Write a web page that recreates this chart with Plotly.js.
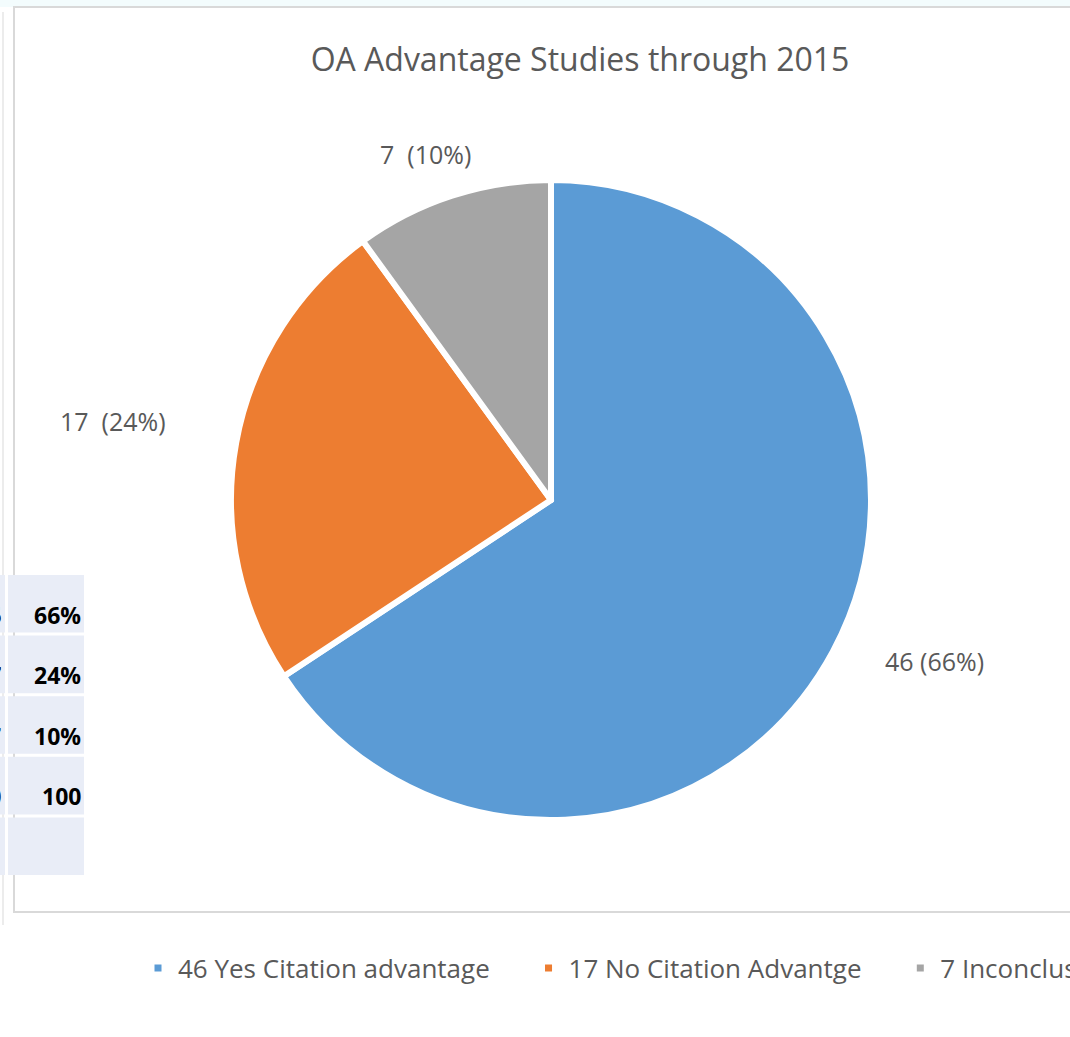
<!DOCTYPE html>
<html>
<head>
<meta charset="utf-8">
<script src="https://cdn.plot.ly/plotly-3.0.1.min.js"></script>
<style>
  html, body { margin: 0; padding: 0; background: #ffffff; }
  #chart { width: 1070px; height: 1037px; }
</style>
</head>
<body>
<div id="chart"></div>
<script>
// ---- data ----
const categories = ['46 Yes Citation advantage', '17 No Citation Advantge', '7 Inconclusive'];
const counts = [46, 17, 7];
const sliceLabels = ['46 (66%)', '17\u00A0\u00A0(24%)', '7\u00A0\u00A0(10%)'];
const tableCounts = ['46', '17', '7', '70', ''];
const tablePct = ['66%', '24%', '10%', '100', ''];
const titleText = 'OA Advantage Studies through 2015';

// ---- style ----
const W = 1070, H = 1037;
const colors = ['#5b9bd5', '#ed7d31', '#a5a5a5'];
const cx = 551, cy = 500, R = 320;
const labelDist = [1.30, 1.39, 1.15];
const labelAngleAdj = [-5.5, 0, -2];  // degrees, Excel "best fit" nudges
const legendPad = [5, 5, 0];          // trailing spaces after legend entries
const px = v => v / W;
const py = v => 1 - v / H;

// label annotations placed from slice mid-angles (clockwise from top)
const total = counts.reduce((a, b) => a + b, 0);
let cum = 0;
const annotations = [];
counts.forEach((v, i) => {
  const theta = 2 * Math.PI * (cum + v / 2) / total + labelAngleAdj[i] * Math.PI / 180;
  cum += v;
  const lx = cx + labelDist[i] * R * Math.sin(theta);
  const ly = cy - labelDist[i] * R * Math.cos(theta);
  annotations.push({
    xref: 'paper', yref: 'paper', x: px(lx), y: py(ly),
    xanchor: 'center', yanchor: 'middle', showarrow: false,
    text: sliceLabels[i],
    font: { family: 'Open Sans, sans-serif', size: 25, color: '#595959' }
  });
});

const shapes = [];
// top light band
shapes.push({ type: 'rect', xref: 'paper', yref: 'paper', x0: -0.01, x1: 1.01, y0: py(7), y1: 1.01,
  fillcolor: '#f3fcfd', line: { width: 0 }, layer: 'below' });
// faint outer line at far left
shapes.push({ type: 'line', xref: 'paper', yref: 'paper', x0: px(3), x1: px(3), y0: py(925), y1: py(12),
  line: { color: '#ececec', width: 2 }, layer: 'below' });
// chart frame
shapes.push({ type: 'rect', xref: 'paper', yref: 'paper', x0: px(14), x1: px(1085), y0: py(912), y1: py(7),
  fillcolor: 'rgba(0,0,0,0)', line: { color: '#d9d9d9', width: 2 }, layer: 'below' });

// table (partially visible at the left edge)
const tableTop = 575, rowH = 60.6, rowGap = 3;
tableCounts.forEach((c, r) => {
  const y0 = tableTop + r * rowH;
  const y1 = y0 + rowH - rowGap;
  shapes.push({ type: 'rect', xref: 'paper', yref: 'paper', x0: px(-60), x1: px(5), y0: py(y1), y1: py(y0),
    fillcolor: '#e9edf7', line: { width: 0 }, layer: 'above' });
  shapes.push({ type: 'rect', xref: 'paper', yref: 'paper', x0: px(8), x1: px(84), y0: py(y1), y1: py(y0),
    fillcolor: '#e9edf7', line: { width: 0 }, layer: 'above' });
  if (c !== '') {
    annotations.push({ xref: 'paper', yref: 'paper', x: px(3), y: py(y1), xanchor: 'right', yanchor: 'bottom',
      showarrow: false, text: '<b>' + c + '</b>', font: { family: 'Open Sans, sans-serif', size: 23, color: '#000000' } });
  }
  if (tablePct[r] !== '') {
    annotations.push({ xref: 'paper', yref: 'paper', x: px(83), y: py(y1), xanchor: 'right', yanchor: 'bottom',
      showarrow: false, text: '<b>' + tablePct[r] + '</b>', font: { family: 'Open Sans, sans-serif', size: 23, color: '#000000' } });
  }
});

const trace = {
  type: 'pie',
  values: counts,
  labels: categories.map((c, i) => c + '\u00A0'.repeat(legendPad[i])),
  sort: false,
  direction: 'clockwise',
  rotation: 0,
  textinfo: 'none',
  hoverinfo: 'label+value+percent',
  marker: { colors: colors, line: { color: '#ffffff', width: 6 } },
  domain: { x: [px(cx - R), px(cx + R)], y: [py(cy + R), py(cy - R)] },
  showlegend: true
};

const layout = {
  width: W, height: H,
  margin: { l: 0, r: 0, t: 0, b: 0, autoexpand: false },
  paper_bgcolor: '#ffffff',
  plot_bgcolor: '#ffffff',
  title: { text: titleText, x: px(580), xanchor: 'center', y: py(60), yanchor: 'middle',
    font: { family: 'Open Sans, sans-serif', size: 32, color: '#595959' } },
  legend: { orientation: 'h', x: px(138), xanchor: 'left', y: py(968), yanchor: 'middle',
    traceorder: 'normal', itemclick: false,
    bgcolor: 'rgba(0,0,0,0)', font: { family: 'Open Sans, sans-serif', size: 26, color: '#595959' } },
  shapes: shapes,
  annotations: annotations
};

Plotly.newPlot('chart', [trace], layout, { displayModeBar: false });
</script>
</body>
</html>
